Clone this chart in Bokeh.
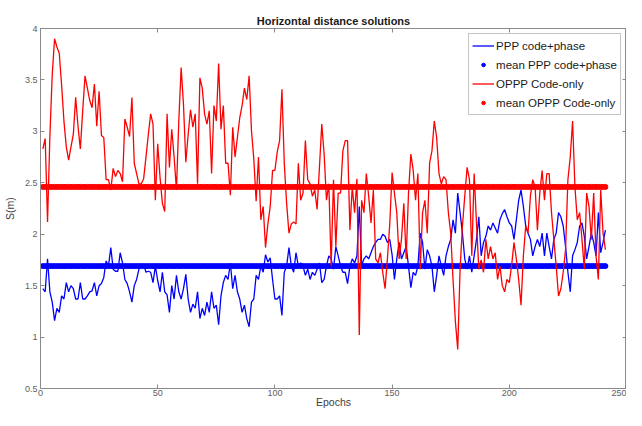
from bokeh.plotting import figure
from bokeh.models import Range1d, LinearAxis, Legend, LegendItem, FixedTicker
from bokeh.embed import file_html
from bokeh.resources import INLINE

epochs = list(range(1, 242))

ppp_code_phase = [
    1.47, 1.44, 1.76, 1.44, 1.34, 1.16, 1.28, 1.24, 1.40, 1.37,
    1.53, 1.44, 1.50, 1.47, 1.37, 1.37, 1.53, 1.37, 1.37, 1.40,
    1.44, 1.45, 1.53, 1.40, 1.50, 1.52, 1.58, 1.74, 1.69, 1.87,
    1.66, 1.64, 1.64, 1.82, 1.72, 1.56, 1.52, 1.44, 1.34, 1.50,
    1.56, 1.66, 1.69, 1.71, 1.63, 1.64, 1.63, 1.53, 1.69, 1.55,
    1.44, 1.63, 1.44, 1.41, 1.24, 1.50, 1.37, 1.60, 1.44, 1.37,
    1.47, 1.61, 1.37, 1.24, 1.32, 1.28, 1.44, 1.18, 1.28, 1.21,
    1.34, 1.24, 1.44, 1.28, 1.31, 1.12, 1.40, 1.53, 1.60, 1.56,
    1.72, 1.47, 1.60, 1.44, 1.37, 1.24, 1.31, 1.18, 1.10, 1.34,
    1.37, 1.60, 1.56, 1.69, 1.63, 1.80, 1.73, 1.77, 1.56, 1.37,
    1.37, 1.40, 1.21, 1.63, 1.69, 1.87, 1.69, 1.63, 1.82, 1.69,
    1.72, 1.69, 1.60, 1.66, 1.56, 1.63, 1.60, 1.66, 1.72, 1.53,
    1.56, 1.69, 1.79, 1.76, 1.66, 1.88, 1.79, 1.69, 1.63, 1.63,
    1.52, 1.69, 1.76, 1.72, 1.79, 2.27, 1.70, 1.76, 1.79, 1.76,
    1.82, 1.88, 1.92, 1.95, 1.95, 2.00, 1.98, 1.92, 1.95, 1.80,
    1.56, 1.76, 1.92, 1.76, 1.82, 1.88, 1.69, 1.48, 1.63, 1.60,
    1.69, 2.01, 1.92, 1.66, 1.85, 1.79, 1.69, 1.44, 1.60, 1.79,
    1.69, 1.60, 1.79, 1.88, 1.95, 2.14, 2.01, 2.40, 2.21, 2.01,
    1.76, 1.66, 1.79, 1.63, 1.79, 1.95, 2.17, 1.79, 1.92, 1.98,
    2.08, 2.04, 2.11, 2.06, 2.01, 2.14, 2.20, 2.24, 2.17, 2.11,
    2.08, 1.95, 2.14, 2.33, 2.43, 2.27, 2.08, 2.01, 1.95, 1.79,
    1.88, 1.95, 1.88, 2.01, 1.79, 2.01, 1.88, 1.76, 1.95, 2.01,
    2.21, 2.17, 2.08, 1.88, 1.63, 1.44, 1.79, 1.85, 1.92, 2.08,
    2.11, 1.98, 1.76, 1.88, 2.01, 1.92, 1.79, 2.21, 1.82, 1.92,
    2.04,
]

oppp_code_only = [
    2.83, 2.93, 2.12, 2.95, 3.55, 3.90, 3.82, 3.76, 3.45, 3.10,
    2.85, 2.72, 2.85, 2.97, 3.33, 3.05, 2.83, 3.20, 3.54, 3.42,
    3.30, 3.23, 3.46, 3.05, 3.39, 2.96, 2.94, 2.53, 2.53, 2.43,
    2.64, 2.56, 2.62, 2.59, 2.51, 3.12, 3.04, 2.95, 3.33, 2.69,
    2.59, 2.49, 2.49, 2.54, 2.75, 2.97, 3.17, 3.07, 2.33, 2.88,
    2.55, 2.30, 2.22, 3.17, 2.65, 3.02, 2.75, 2.43, 3.10, 3.62,
    3.26, 2.70, 2.97, 3.21, 3.04, 3.17, 2.49, 3.52, 3.42, 3.17,
    3.07, 3.20, 2.59, 3.25, 3.10, 3.66, 3.02, 3.25, 2.69, 2.69,
    2.38, 3.04, 2.75, 2.94, 3.13, 3.25, 3.42, 3.31, 3.54, 3.01,
    2.73, 2.32, 2.75, 2.14, 2.27, 1.87, 2.10, 2.27, 2.62, 2.62,
    2.80, 2.91, 3.41, 2.69, 2.30, 2.01, 2.10, 2.12, 2.10, 2.69,
    2.33, 2.40, 2.91, 2.53, 2.49, 2.37, 2.43, 2.24, 2.65, 3.07,
    2.78, 2.33, 2.49, 1.69, 2.53, 1.88, 2.40, 2.40, 2.81, 2.91,
    2.91, 2.04, 2.46, 2.21, 2.54, 1.02, 2.33, 2.21, 2.59, 2.37,
    2.11, 2.43, 1.76, 1.72, 1.82, 1.63, 1.47, 1.76, 2.10, 2.60,
    2.40, 2.21, 1.76, 1.95, 2.30, 1.76, 2.40, 2.78, 2.62, 2.33,
    2.59, 1.66, 2.21, 2.33, 2.01, 2.69, 2.81, 3.10, 2.94, 2.59,
    2.49, 2.56, 2.53, 2.21, 2.01, 1.56, 1.15, 0.88, 1.66, 2.08,
    2.37, 2.65, 2.53, 1.79, 2.59, 2.11, 1.66, 1.75, 1.63, 1.95,
    1.76, 1.88, 1.76, 1.82, 1.56, 1.69, 1.50, 1.44, 1.56, 1.53,
    1.70, 1.92, 1.76, 1.56, 1.31, 1.79, 2.08, 2.01, 2.37, 2.53,
    2.46, 2.04, 2.40, 2.62, 2.33, 2.59, 2.59, 2.21, 1.95, 1.69,
    1.40, 1.47, 1.63, 1.85, 2.53, 2.75, 3.10, 2.46, 2.14, 2.21,
    1.95, 1.66, 2.40, 2.27, 1.95, 2.40, 1.79, 1.56, 2.43, 2.01,
    1.85,
]

mean_ppp = 1.69
mean_oppp = 2.46

series_labels = ["PPP code+phase", "mean PPP code+phase",
                 "OPPP Code-only", "mean OPPP Code-only"]
x_ticks = [0, 50, 100, 150, 200, 250]
y_ticks = [0.5, 1, 1.5, 2, 2.5, 3, 3.5, 4]

FONT = "Liberation Sans"
AX = "#8a8a8a"

p = figure(width=626, height=410, output_backend="svg", toolbar_location=None,
           x_range=Range1d(0, 250), y_range=Range1d(0.5, 4),
           title="Horizontal distance solutions",
           min_border_left=40, min_border_right=0, min_border_top=28, min_border_bottom=0)
p.background_fill_color = "white"
p.border_fill_color = "white"
p.grid.visible = False
p.outline_line_color = AX
p.title.align = "center"
p.title.text_font = FONT
p.title.text_font_size = "11px"
p.title.text_font_style = "bold"
p.title.text_color = "#1a1a1a"
p.title.standoff = 4

for ax in [p.xaxis[0], p.yaxis[0]]:
    ax.axis_line_color = AX
    ax.major_tick_line_color = AX
    ax.major_tick_in = 4
    ax.major_tick_out = 0
    ax.minor_tick_line_color = None
    ax.major_label_text_font = FONT
    ax.major_label_text_font_size = "9px"
    ax.major_label_text_color = "#606060"
    ax.axis_label_text_font = FONT
    ax.axis_label_text_font_size = "10.5px"
    ax.axis_label_text_font_style = "normal"
    ax.axis_label_text_color = "#404040"

p.xaxis[0].ticker = FixedTicker(ticks=x_ticks)
p.yaxis[0].ticker = FixedTicker(ticks=y_ticks)
p.xaxis[0].axis_label = "Epochs"
p.xaxis[0].major_label_standoff = 1
p.xaxis[0].axis_label_standoff = -3
p.yaxis[0].axis_label = "S(m)"
p.yaxis[0].major_label_standoff = 3
p.yaxis[0].axis_label_standoff = 6

top_ax = LinearAxis(ticker=FixedTicker(ticks=x_ticks))
right_ax = LinearAxis(ticker=FixedTicker(ticks=y_ticks))
for ax in [top_ax, right_ax]:
    ax.axis_line_color = AX
    ax.major_tick_line_color = AX
    ax.major_tick_in = 4
    ax.major_tick_out = 0
    ax.minor_tick_line_color = None
    ax.major_label_text_font_size = "1px"
    ax.major_label_text_color = None
    ax.major_label_standoff = 0
p.add_layout(top_ax, "above")
p.add_layout(right_ax, "right")

r1 = p.line(epochs, ppp_code_phase, line_color="#0000ff", line_width=1.3)
r2 = p.scatter(epochs, [mean_ppp] * len(epochs), size=5, line_width=1,
               fill_color="#0000ff", line_color="#0000ff")
r3 = p.line(epochs, oppp_code_only, line_color="#ff0000", line_width=1.3)
r4 = p.scatter(epochs, [mean_oppp] * len(epochs), size=5, line_width=1,
               fill_color="#ff0000", line_color="#ff0000")

legend = Legend(items=[LegendItem(label=series_labels[0], renderers=[r1]),
                       LegendItem(label=series_labels[1], renderers=[r2]),
                       LegendItem(label=series_labels[2], renderers=[r3]),
                       LegendItem(label=series_labels[3], renderers=[r4])],
                location="top_right")
legend.label_text_font = FONT
legend.label_text_font_size = "11.5px"
legend.label_text_color = "#1a1a1a"
legend.glyph_width = 22
legend.glyph_height = 9
legend.label_height = 17
legend.label_standoff = 2
legend.spacing = 2
legend.padding = 3
legend.margin = 5
legend.border_line_color = AX
legend.background_fill_color = "white"
legend.background_fill_alpha = 1
p.add_layout(legend)

open("out.html", "w").write(file_html(p, INLINE))
